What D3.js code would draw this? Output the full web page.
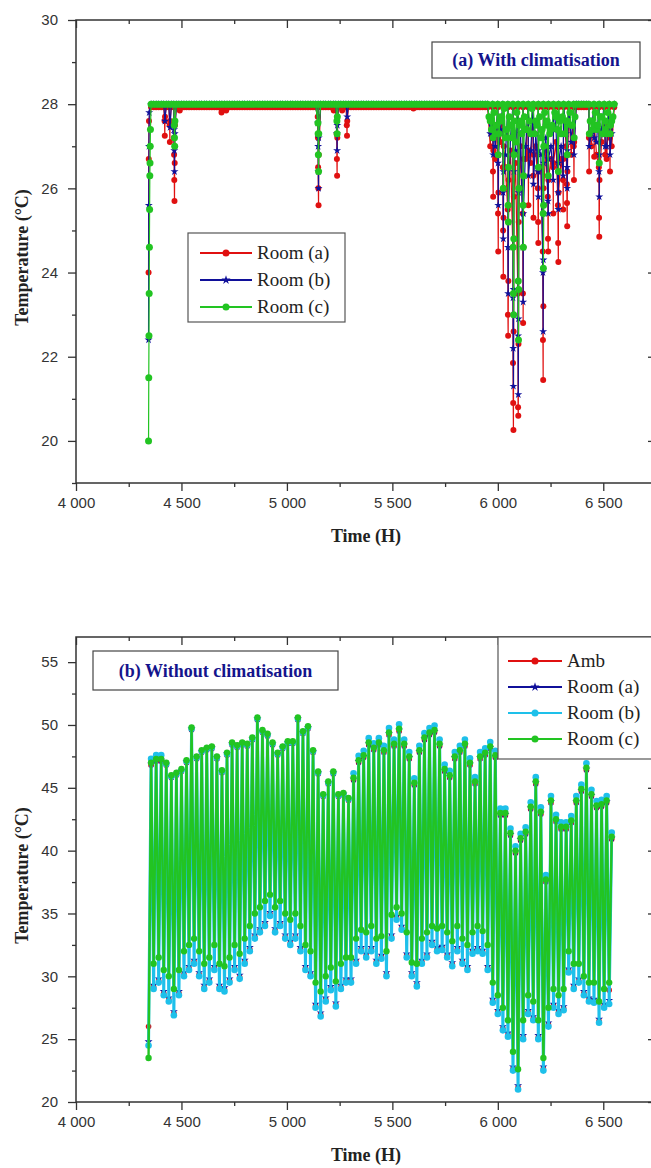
<!DOCTYPE html>
<html><head><meta charset="utf-8">
<script src="https://cdn.jsdelivr.net/npm/d3@7"></script>
<style>body{margin:0;background:#fff} svg{display:block}</style>
</head><body><svg id="c" width="651" height="1168"></svg>
<script>
// ---------- axis ticks ----------
const xTicksMajor = [4000,4500,5000,5500,6000,6500];
const xTickLabels = ["4 000","4 500","5 000","5 500","6 000","6 500"];
const xTicksMinor = [4250,4750,5250,5750,6250,6750];
const yTicksA = [20,22,24,26,28,30];
const yMinorA = [19,21,23,25,27,29];
const yTicksB = [20,25,30,35,40,45,50,55];
const yMinorB = [22.5,27.5,32.5,37.5,42.5,47.5,52.5];

// ---------- panel (a): with climatisation ----------
// 12-hour grid values (from hour 4356 to 6552)
const gridA_roomA = [
27.93,27.93,27.93,27.93,27.93,27.93,27.93,27.93,27.93,27.93,27.93,27.93,27.93,27.93,27.93,27.93,27.93,27.93,27.93,27.93,
27.93,27.93,27.93,27.93,27.93,27.93,27.93,27.93,27.93,27.93,27.93,27.93,27.93,27.93,27.93,27.93,27.93,27.93,27.93,27.93,
27.93,27.93,27.93,27.93,27.93,27.93,27.93,27.93,27.93,27.93,27.93,27.93,27.93,27.93,27.93,27.93,27.93,27.93,27.93,27.93,
27.93,27.93,27.93,27.93,27.93,27.93,27.93,27.93,27.93,27.93,27.93,27.93,27.93,27.93,27.93,27.93,27.93,27.93,27.93,27.93,
27.93,27.93,27.93,27.93,27.93,27.93,27.93,27.93,27.93,27.93,27.93,27.93,27.93,27.93,27.93,27.93,27.93,27.93,27.93,27.93,
27.93,27.93,27.93,27.93,27.93,27.93,27.93,27.93,27.93,27.93,27.93,27.93,27.93,27.93,27.93,27.93,27.93,27.93,27.93,27.93,
27.93,27.93,27.93,27.93,27.93,27.93,27.93,27.93,27.93,27.93,27.93,27.93,27.93,
27.93,27.0,27.93,26.7,27.93,27.1,27.93,26.5,27.93,26.9,27.93,26.6,27.93,27.0,27.93,26.7,27.93,26.6,27.93,27.0,
27.93,26.5,27.93,26.9,27.93,26.7,27.93,27.1,27.93,26.7,27.93,27.0,27.93,26.8,27.93,
27.93,27.93,27.93,27.93,27.93,
27.93,27.0,27.93,26.8,27.93,27.1,27.93,26.7,27.93,27.0,27.93];
const gridA_roomB = [
28,28,28,28,28,28,28,28,28,28,28,28,28,28,28,28,28,28,28,28,
28,28,28,28,28,28,28,28,28,28,28,28,28,28,28,28,28,28,28,28,
28,28,28,28,28,28,28,28,28,28,28,28,28,28,28,28,28,28,28,28,
28,28,28,28,28,28,28,28,28,28,28,28,28,28,28,28,28,28,28,28,
28,28,28,28,28,28,28,28,28,28,28,28,28,28,28,28,28,28,28,28,
28,28,28,28,28,28,28,28,28,28,28,28,28,28,28,28,28,28,28,28,
28,28,28,28,28,28,28,28,28,28,28,28,28,
28,27.3,28,27.0,28,27.4,28,26.8,28,27.2,28,26.9,28,27.3,28,27.0,28,26.9,28,27.3,
28,26.8,28,27.2,28,27.0,28,27.4,28,27.0,28,27.3,28,27.1,28,
28,28,28,28,28,
28,27.3,28,27.1,28,27.4,28,27.0,28,27.3,28];
const gridA_roomC = [
28,28,28,28,28,28,28,28,28,28,28,28,28,28,28,28,28,28,28,28,
28,28,28,28,28,28,28,28,28,28,28,28,28,28,28,28,28,28,28,28,
28,28,28,28,28,28,28,28,28,28,28,28,28,28,28,28,28,28,28,28,
28,28,28,28,28,28,28,28,28,28,28,28,28,28,28,28,28,28,28,28,
28,28,28,28,28,28,28,28,28,28,28,28,28,28,28,28,28,28,28,28,
28,28,28,28,28,28,28,28,28,28,28,28,28,28,28,28,28,28,28,28,
28,28,28,28,28,28,28,28,28,28,28,28,28,
28,27.6,28,27.3,28,27.7,28,27.2,28,27.5,28,27.1,28,27.6,28,27.4,28,27.3,28,27.6,
28,27.2,28,27.5,28,27.4,28,27.7,28,27.3,28,27.6,28,27.5,28,
28,28,28,28,28,
28,27.6,28,27.4,28,27.7,28,27.3,28,27.6,28];
const gridStartA = 4356, gridStepA = 12;

// hourly excursions below the set-point [hour, °C]
const dipsA_roomA = [
[4344,24.0],[4345,26.7],[4346,27.6],
[4420,27.6],[4421,27.25],[4422,27.7],[4444,27.5],[4445,27.1],[4446,27.6],
[4464,27.2],[4465,26.8],[4466,26.2],[4467,25.7],[4468,26.6],[4469,27.5],[4492,27.85],
[4690,27.8],[4691,27.85],[4712,27.85],
[5146,27.7],[5147,27.2],[5148,26.5],[5149,26.0],[5150,25.6],[5151,26.8],
[5222,27.85],[5236,27.3],[5237,26.7],[5238,26.3],[5239,27.2],
[5262,27.85],[5284,27.5],[5285,27.25],[5286,27.6],[5600,27.9],
[5976,27.2],[5977,26.4],[5978,25.8],[5979,26.9],
[6000,26.8],[6001,25.4],[6002,24.5],[6003,25.9],[6004,27.3],
[6024,26.5],[6025,25.0],[6026,23.9],[6027,25.3],[6028,27.0],
[6047,25.5],[6048,23.0],[6049,22.5],[6050,23.8],[6051,26.2],
[6071,24.6],[6072,21.85],[6073,20.9],[6074,20.26],[6075,22.6],[6076,25.8],
[6095,23.5],[6096,20.8],[6097,20.6],[6098,22.3],[6099,25.2],
[6118,25.4],[6119,23.5],[6120,22.8],[6121,24.6],[6122,26.7],
[6144,26.8],[6145,25.6],[6146,26.9],[6168,26.3],[6169,25.3],[6170,26.8],
[6190,26.0],[6191,25.2],[6192,24.7],[6193,26.4],
[6213,24.5],[6214,22.4],[6215,21.45],[6216,23.2],[6217,26.0],
[6237,25.8],[6238,24.8],[6239,24.5],[6240,26.2],[6262,26.5],[6263,25.4],[6264,26.6],
[6285,25.6],[6286,24.7],[6287,24.25],[6288,25.9],[6309,26.2],[6310,25.5],[6311,26.7],
[6327,26.1],[6328,25.65],[6329,25.1],[6330,26.4],[6360,27.0],[6361,26.2],[6362,27.1],
[6432,27.2],[6433,26.4],[6434,27.3],[6456,27.4],[6457,26.75],[6458,27.5],
[6479,26.5],[6480,25.3],[6481,24.85],[6482,26.2],[6508,27.3],[6509,26.8],[6510,27.5],
[6531,27.2],[6532,26.4],[6533,27.4]];
const dipsA_roomB = [
[4344,22.4],[4345,25.6],[4346,27.0],[4347,27.8],
[4422,27.6],[4446,27.45],[4465,27.4],[4466,26.9],[4467,26.4],[4468,27.3],
[5147,27.55],[5148,27.0],[5149,26.4],[5150,26.0],[5151,27.2],
[5237,27.3],[5238,26.9],[5239,27.5],[5286,27.7],
[5977,27.2],[5978,26.8],[5979,27.4],[6001,26.6],[6002,25.6],[6003,26.8],
[6025,25.9],[6026,24.8],[6027,26.4],[6048,24.6],[6049,23.5],[6050,25.2],
[6072,23.4],[6073,22.2],[6074,21.3],[6075,23.6],[6076,26.4],
[6096,22.5],[6097,21.1],[6098,22.9],[6099,25.9],
[6119,24.6],[6120,23.3],[6121,25.4],[6145,26.3],[6169,26.1],
[6191,26.4],[6192,25.8],[6193,26.9],[6214,24.0],[6215,22.6],[6216,24.3],[6217,26.6],
[6238,25.7],[6239,25.4],[6240,26.7],[6263,26.2],[6286,25.9],[6287,25.5],[6288,26.6],
[6310,26.3],[6328,26.5],[6329,26.0],[6330,26.9],[6361,26.8],
[6433,27.0],[6457,27.2],[6480,26.4],[6481,25.8],[6482,26.8],[6509,27.0],[6532,26.8]];
const dipsA_roomC = [
[4344,20.0],[4345,21.5],[4346,22.5],[4347,23.5],[4348,24.6],[4349,25.5],[4350,26.3],[4351,26.6],[4352,27.0],[4353,27.4],
[4466,27.5],[4467,27.2],[4468,27.0],[4469,27.6],
[5147,27.55],[5148,27.3],[5149,26.8],[5150,26.4],[5151,27.3],
[5237,27.6],[5238,27.3],[5239,27.7],
[5978,27.2],[6002,26.8],[6026,26.0],[6049,25.6],[6050,25.2],[6051,26.5],
[6073,24.6],[6074,23.5],[6075,23.0],[6076,24.8],[6077,26.8],
[6097,23.8],[6098,22.4],[6099,23.6],[6100,26.0],
[6120,25.6],[6121,24.6],[6122,26.3],[6192,26.5],
[6215,25.4],[6216,24.1],[6217,25.6],[6218,27.0],[6239,26.3],
[6287,26.4],[6329,26.8],[6362,27.2],[6434,27.3],[6457,27.5],[6481,26.6],[6510,27.4],[6533,27.3],
// dense small excursions of Room (c) during the hot period
[5958,27.7],[5970,27.4],[5982,27.8],[5994,27.5],[6006,27.3],[6018,27.6],[6030,27.9],[6042,27.4],[6054,27.7],[6066,27.2],
[6078,27.6],[6090,27.8],[6102,27.5],[6114,27.3],[6126,27.7],[6138,27.4],[6150,27.6],[6162,27.9],[6174,27.3],[6186,27.5],
[6198,27.7],[6210,27.4],[6222,27.8],[6234,27.6],[6246,27.3],[6258,27.5],[6270,27.8],[6282,27.4],[6294,27.6],[6306,27.7],
[6318,27.3],[6330,27.6],[6342,27.8],[6354,27.5],[6366,27.7],
[6438,27.6],[6450,27.4],[6462,27.8],[6474,27.5],[6486,27.7],[6498,27.3],[6510,27.6],[6522,27.8],[6534,27.5],[6546,27.7]];

// ---------- panel (b): without climatisation (daily min / max, from hour 4344) ----------
const startHourB = 4344;
const ambMin = [26.0,29.15,29.65,28.65,28.15,27.05,28.65,30.15,30.65,31.15, 30.15,29.15,29.65,30.65,29.15,28.95,29.65,30.65,29.95,31.15,
 32.15,33.15,33.65,34.15,34.95,33.65,34.15,33.15,32.65,33.15, 32.15,30.65,30.15,27.65,26.95,28.15,29.05,27.75,29.15,29.65,
 29.65,31.15,32.15,31.65,32.15,31.15,31.55,30.15,33.15,34.65, 33.85,31.65,30.15,29.35,31.15,31.65,32.65,32.15,32.25,31.65,
 30.95,32.15,31.15,30.65,31.95,32.15,31.95,30.65,28.05,27.15, 25.85,25.35,22.65,21.15,25.15,27.15,26.65,25.15,22.65,26.15,
 27.65,27.15,27.45,30.45,29.15,29.65,28.65,28.15,28.05,26.45,27.65,28.9];
const ambMax = [46.8,47.1,47.1,46.8,45.8,46.0,46.3,47.0,49.6,47.3, 47.8,48.0,48.1,47.3,46.2,47.6,48.4,48.2,48.4,48.3,
 48.8,50.4,49.4,49.1,48.4,47.6,48.1,48.5,48.5,50.4, 49.3,49.7,47.8,46.1,44.3,45.3,46.1,44.3,44.4,44.0,
 45.6,47.0,47.4,48.4,48.0,48.4,47.8,49.2,48.3,49.5, 48.3,47.3,45.2,47.8,48.8,49.2,49.4,48.3,46.3,45.8,
 47.3,47.8,48.3,46.8,45.3,47.3,47.6,48.1,47.4,42.8, 42.8,41.2,39.8,40.8,41.3,43.3,45.3,42.9,37.5,43.8,
 42.3,41.7,41.7,42.2,43.8,44.7,46.4,44.3,43.4,43.5,43.8,40.9];
const roomAMin = [24.8,29.3,29.8,28.8,28.3,27.2,28.8,30.3,30.8,31.3, 30.3,29.3,29.8,30.8,29.3,29.1,29.8,30.8,30.1,31.3,
 32.3,33.3,33.8,34.3,35.1,33.8,34.3,33.3,32.8,33.3, 32.3,30.8,30.3,27.8,27.1,28.3,29.2,27.9,29.3,29.8,
 29.8,31.3,32.3,31.8,32.3,31.3,31.7,30.3,33.3,34.8, 34.0,31.8,30.3,29.5,31.3,31.8,32.8,32.3,32.4,31.8,
 31.1,32.3,31.3,30.8,32.1,32.3,32.1,30.8,28.2,27.3, 26.0,25.5,22.8,21.3,25.3,27.3,26.8,25.3,22.8,26.3,
 27.8,27.3,27.6,30.6,29.3,29.8,28.8,28.3,28.2,26.6,27.8,28.1];
const roomAMax = [46.9,47.2,47.2,46.9,45.9,46.1,46.4,47.1,49.7,47.4, 47.9,48.1,48.2,47.4,46.3,47.7,48.5,48.3,48.5,48.4,
 48.9,50.5,49.5,49.2,48.5,47.7,48.2,48.6,48.6,50.5, 49.4,49.8,47.9,46.2,44.4,45.4,46.2,44.4,44.5,44.1,
 45.7,47.1,47.5,48.5,48.1,48.5,47.9,49.3,48.4,49.6, 48.4,47.4,45.3,47.9,48.9,49.3,49.5,48.4,46.4,45.9,
 47.4,47.9,48.4,46.9,45.4,47.4,47.7,48.2,47.5,42.9, 42.9,41.3,39.9,40.9,41.4,43.4,45.4,43.0,37.6,43.9,
 42.4,41.8,41.8,42.3,43.9,44.8,46.5,44.4,43.5,43.6,43.9,41.0];
const roomBMin = [24.5,29.0,29.5,28.5,28.0,26.9,28.5,30.0,30.5,31.0, 30.0,29.0,29.5,30.5,29.0,28.8,29.5,30.5,29.8,31.0,
 32.0,33.0,33.5,34.0,34.8,33.5,34.0,33.0,32.5,33.0, 32.0,30.5,30.0,27.5,26.8,28.0,28.9,27.6,29.0,29.5,
 29.5,31.0,32.0,31.5,32.0,31.0,31.4,30.0,33.0,34.5, 33.7,31.5,30.0,29.2,31.0,31.5,32.5,32.0,32.1,31.5,
 30.8,32.0,31.0,30.5,31.8,32.0,31.8,30.5,27.9,27.0, 25.7,25.2,22.5,21.0,25.0,27.0,26.5,25.0,22.5,26.0,
 27.5,27.0,27.3,30.3,29.0,29.5,28.5,28.0,27.9,26.3,27.5,27.8];
const roomBMax = [47.3,47.6,47.6,46.9,45.9,46.1,46.4,47.1,49.7,47.4, 47.9,48.1,48.2,47.4,46.3,47.7,48.5,48.3,48.5,48.4,
 48.9,50.5,49.5,49.2,48.5,47.7,48.2,48.6,48.6,50.5, 49.4,49.8,47.9,46.2,44.4,45.4,46.2,44.4,44.5,44.1,
 46.15,47.55,47.95,48.95,48.55,48.95,48.35,49.75,48.85,50.05, 48.85,47.85,45.75,48.35,49.35,49.75,49.95,48.85,46.85,46.35,
 47.85,48.35,48.85,47.35,45.85,47.85,48.15,48.65,47.95,43.35, 43.35,41.75,40.35,41.35,41.85,43.85,45.85,43.45,38.05,44.35,
 42.85,42.25,42.25,42.75,44.35,45.25,46.95,44.85,43.95,44.05,44.35,41.45];
const roomCMin = [23.5,31.0,31.5,30.5,30.0,29.0,30.5,32.0,32.5,33.0, 32.0,31.0,31.5,32.5,31.0,30.8,31.5,32.5,31.8,33.0,
 34.0,35.0,35.5,36.0,36.5,35.5,36.0,35.0,34.5,35.0, 34.0,32.5,32.0,29.5,28.8,30.0,30.7,29.6,31.0,31.5,
 31.5,33.0,33.7,33.5,34.0,33.0,33.2,32.0,34.9,35.5, 35.0,33.5,31.1,31.0,33.0,33.5,34.0,33.8,34.0,33.5,
 32.8,34.0,33.0,32.5,33.5,34.0,33.6,32.5,29.5,28.5, 27.5,26.5,24.0,22.6,26.5,28.5,28.0,26.5,23.5,27.5,
 29.0,28.5,29.0,32.0,31.0,31.0,30.0,29.5,29.5,28.0,29.0,29.5];
const roomCMax = [47.0,47.3,47.3,47.0,46.0,46.2,46.5,47.2,49.8,47.5, 48.0,48.2,48.3,47.5,46.4,47.8,48.6,48.4,48.6,48.5,
 49.0,50.6,49.6,49.3,48.6,47.8,48.3,48.7,48.7,50.6, 49.5,49.9,48.0,46.3,44.5,45.5,46.3,44.5,44.6,44.2,
 45.8,47.2,47.6,48.6,48.2,48.6,48.0,49.4,48.5,49.7, 48.5,47.5,45.4,48.0,49.0,49.4,49.6,48.5,46.5,46.0,
 47.5,48.0,48.5,47.0,45.5,47.5,47.8,48.3,47.6,43.0, 43.0,41.4,40.0,41.0,41.5,43.5,45.5,43.1,37.7,44.0,
 42.5,41.9,41.9,42.4,44.0,44.9,46.6,44.5,43.6,43.7,44.0,41.1];

// ---------- colours ----------
const cRed = "#e01010", cBlue = "#10109a", cGreen = "#22c422", cCyan = "#1ec0ea";

// ---------- layout ----------
const svg = d3.select("#c");
const x = d3.scaleLinear().domain([4000,6750]).range([76,656]);
const yA = d3.scaleLinear().domain([19,30]).range([483,20]);
const yB = d3.scaleLinear().domain([20,57]).range([1102,637]);
const serif = "Liberation Serif, Times New Roman, serif";
const sans = "Liberation Sans, Arial, sans-serif";

svg.append("defs").selectAll("clipPath").data([["ca",yA],["cb",yB]]).join("clipPath")
  .attr("id",d=>d[0]).append("rect")
  .attr("x",76).attr("width",580)
  .attr("y",d=>d[1].range()[1]).attr("height",d=>d[1].range()[0]-d[1].range()[1]);

function frame(y, yMaj, yMin){
  const top = y.range()[1], bot = y.range()[0];
  const g = svg.append("g").attr("class","axes");
  const tick = sel => { sel.select(".domain").remove(); sel.selectAll("line").attr("stroke","#333").attr("stroke-width",1.3); };
  const lab = sel => sel.selectAll("text").attr("font-family",sans).attr("font-size",15).attr("fill","#333");
  g.append("g").attr("transform",`translate(0,${bot})`)
    .call(d3.axisBottom(x).tickValues(xTicksMajor).tickSize(8).tickPadding(6).tickFormat((d,i)=>xTickLabels[i]))
    .call(tick).call(lab);
  g.append("g").attr("transform",`translate(0,${bot})`)
    .call(d3.axisBottom(x).tickValues(xTicksMinor).tickSize(4).tickFormat("")).call(tick);
  g.append("g").attr("transform",`translate(0,${top})`)
    .call(d3.axisBottom(x).tickValues(xTicksMajor).tickSize(8).tickFormat("")).call(tick);
  g.append("g").attr("transform",`translate(0,${top})`)
    .call(d3.axisBottom(x).tickValues(xTicksMinor).tickSize(4).tickFormat("")).call(tick);
  g.append("g").attr("transform",`translate(76,0)`)
    .call(d3.axisLeft(y).tickValues(yMaj).tickSize(8).tickPadding(10))
    .call(tick).call(lab);
  g.append("g").attr("transform",`translate(76,0)`)
    .call(d3.axisLeft(y).tickValues(yMin).tickSize(4).tickFormat("")).call(tick);
  g.append("g").attr("transform",`translate(656,0)`)
    .call(d3.axisRight(y).tickValues(yMaj).tickSize(-8).tickFormat("")).call(tick);
  g.append("g").attr("transform",`translate(656,0)`)
    .call(d3.axisRight(y).tickValues(yMin).tickSize(-4).tickFormat("")).call(tick);
  g.append("rect").attr("x",76).attr("y",top).attr("width",580).attr("height",bot-top)
    .attr("fill","none").attr("stroke","#333").attr("stroke-width",1.5);
  svg.append("text").attr("x",366).attr("y",bot+59).attr("text-anchor","middle")
    .attr("font-family",serif).attr("font-weight","bold").attr("font-size",18).attr("fill","#222").text("Time (H)");
  svg.append("text").attr("transform",`translate(28,${(top+bot)/2+6}) rotate(-90)`).attr("text-anchor","middle")
    .attr("font-family",serif).attr("font-weight","bold").attr("font-size",18).attr("fill","#222").text("Temperature (°C)");
}

const starSize = 20;
function symbol(g, kind, color, cx, cy, r){
  if(kind==="star"){
    g.append("path").attr("d",d3.symbol(d3.symbolStar, 26)()).attr("transform",`translate(${cx},${cy})`).attr("fill",color);
  } else {
    g.append("circle").attr("cx",cx).attr("cy",cy).attr("r",r).attr("fill",color);
  }
}

function drawSeries(pts, y, color, kind, r, clip, lw){
  const g = svg.append("g").attr("clip-path",`url(#${clip})`);
  g.append("path").datum(pts).attr("fill","none").attr("stroke",color).attr("stroke-width",lw).attr("stroke-linejoin","round")
    .attr("d",d3.line().x(d=>x(d[0])).y(d=>y(d[1])));
  if(kind==="star"){
    g.selectAll("path.m").data(pts).join("path").attr("class","m")
      .attr("d",d3.symbol(d3.symbolStar, starSize)()).attr("transform",d=>`translate(${x(d[0])},${y(d[1])})`).attr("fill",color);
  } else {
    g.selectAll("circle").data(pts).join("circle").attr("cx",d=>x(d[0])).attr("cy",d=>y(d[1])).attr("r",r).attr("fill",color);
  }
}

function seriesA(grid, dips){
  const pts = grid.map((v,i)=>[gridStartA + gridStepA*i, v]).concat(dips);
  return pts.sort((a,b)=>a[0]-b[0]);
}
function seriesB(mins, maxs){
  const pts = [];
  mins.forEach((m,k)=>{ pts.push([startHourB+24*k, m]); pts.push([startHourB+24*k+12, maxs[k]]); });
  return pts;
}

// ----- panel (a) -----
frame(yA, yTicksA, yMinorA);
drawSeries(seriesA(gridA_roomA, dipsA_roomA), yA, cRed, "circle", 3, "ca", 1.2);
drawSeries(seriesA(gridA_roomB, dipsA_roomB), yA, cBlue, "star", 3, "ca", 1.2);
drawSeries(seriesA(gridA_roomC, dipsA_roomC), yA, cGreen, "circle", 3.5, "ca", 1.2);

// ----- panel (b) -----
frame(yB, yTicksB, yMinorB);
drawSeries(seriesB(ambMin, ambMax), yB, cRed, "circle", 2.8, "cb", 1.2);
drawSeries(seriesB(roomAMin, roomAMax), yB, cBlue, "star", 3, "cb", 1.2);
drawSeries(seriesB(roomBMin, roomBMax), yB, cCyan, "circle", 3.3, "cb", 3.0);
drawSeries(seriesB(roomCMin, roomCMax), yB, cGreen, "circle", 3.2, "cb", 2.4);

// ----- label boxes -----
function labelBox(x0,y0,w,h,txt){
  svg.append("rect").attr("x",x0).attr("y",y0).attr("width",w).attr("height",h).attr("fill","#fff").attr("stroke","#444").attr("stroke-width",1.2);
  svg.append("text").attr("x",x0+w/2).attr("y",y0+h/2+6).attr("text-anchor","middle")
    .attr("font-family",serif).attr("font-weight","bold").attr("font-size",18).attr("fill","#14148c").text(txt);
}
labelBox(432,42,208,36,"(a) With climatisation");
labelBox(93,651,245,39,"(b) Without climatisation");

// ----- legends -----
function legend(x0,y0,w,h,items,ys,lx0,lx1,tx){
  svg.append("rect").attr("x",x0).attr("y",y0).attr("width",w).attr("height",h).attr("fill","#fff").attr("stroke","#555").attr("stroke-width",1.2);
  const g = svg.append("g");
  items.forEach((it,i)=>{
    g.append("line").attr("x1",lx0).attr("x2",lx1).attr("y1",ys[i]).attr("y2",ys[i]).attr("stroke",it[1]).attr("stroke-width",2);
    symbol(g, it[2], it[1], (lx0+lx1)/2, ys[i], 3.5);
    g.append("text").attr("x",tx).attr("y",ys[i]+6).attr("font-family",serif)
      .attr("font-size",19).attr("fill","#222").text(it[0]);
  });
}
legend(188,233,157,89,[["Room (a)",cRed,"circle"],["Room (b)",cBlue,"star"],["Room (c)",cGreen,"circle"]],[253,280,307],200,252,257);
legend(498,637,170,122,[["Amb",cRed,"circle"],["Room (a)",cBlue,"star"],["Room (b)",cCyan,"circle"],["Room (c)",cGreen,"circle"]],[661,687,713,739],508,562,567);
</script></body></html>
